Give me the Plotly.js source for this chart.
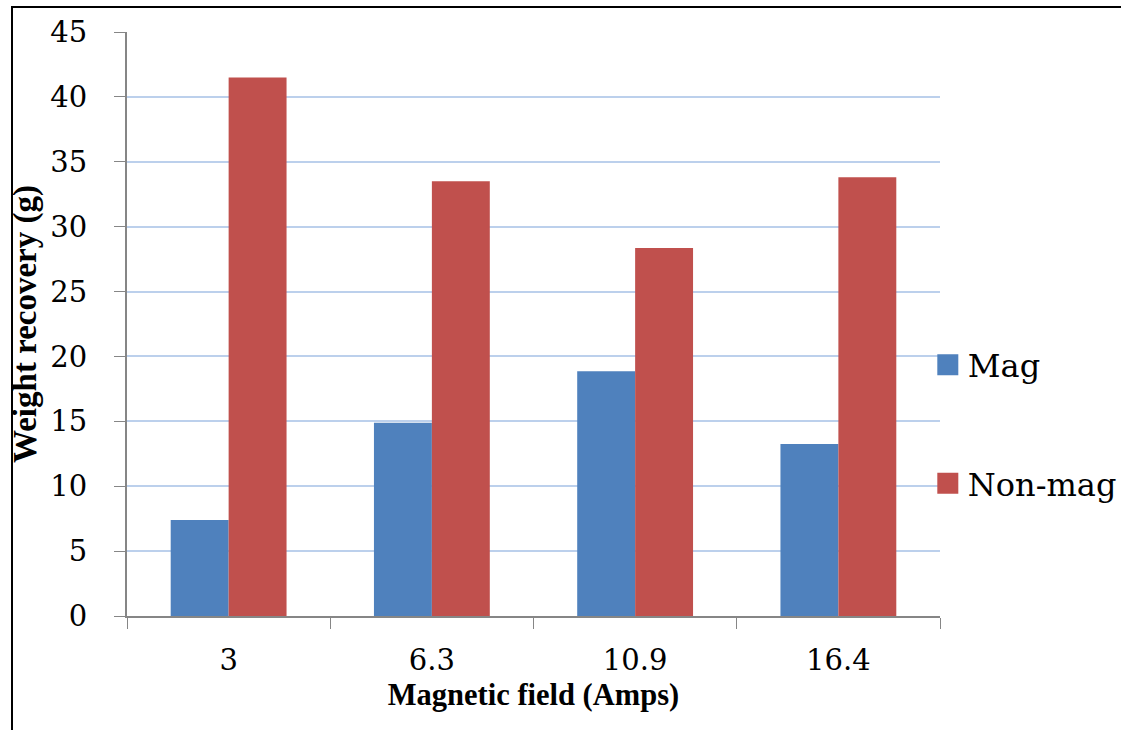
<!DOCTYPE html>
<html>
<head>
<meta charset="utf-8">
<script src="https://cdn.plot.ly/plotly-3.0.1.min.js"></script>
<style>
  html, body { margin: 0; padding: 0; background: #fff; }
  #chart { width: 1121px; height: 730px; position: absolute; left: 0; top: 0; }
  #frame { position: absolute; left: 11px; top: 6px; width: 2000px; height: 2000px;
           border-left: 2px solid #000; border-top: 2px solid #000; pointer-events: none; }
</style>
</head>
<body>
<div id="chart"></div>
<div id="frame"></div>
<script>
const categories = ["3", "6.3", "10.9", "16.4"];
const magValues = [7.4, 14.9, 18.85, 13.25];
const nonMagValues = [41.5, 33.5, 28.35, 33.8];
const seriesNames = ["Mag", "Non-mag"];
const yTickValues = [0, 5, 10, 15, 20, 25, 30, 35, 40, 45];
const xTitle = "Magnetic field (Amps)";
const yTitle = "Weight recovery (g)";

const serifBold = "Liberation Serif";
const serifRegular = "DejaVu Serif";

const traces = [
  { type: "bar", name: seriesNames[0], x: categories, y: magValues,
    marker: { color: "#4f81bd", line: { width: 0 } }, legendgroup: "a" },
  { type: "bar", name: seriesNames[1], x: categories, y: nonMagValues,
    marker: { color: "#c0504d", line: { width: 0 } }, legendgroup: "b" }
];

const layout = {
  width: 1121, height: 730,
  margin: { l: 127, r: 181, t: 32, b: 114, autoexpand: false },
  paper_bgcolor: "#fff", plot_bgcolor: "#fff",
  barmode: "group", bargap: 0.43, bargroupgap: 0,
  font: { family: serifRegular, color: "#000" },
  xaxis: {
    type: "category",
    tickson: "boundaries",
    ticks: "outside", ticklen: 11, tickcolor: "#868686", tickwidth: 1,
    showline: true, linecolor: "#868686", linewidth: 2,
    showgrid: false,
    automargin: false,
    tickfont: { family: serifRegular, size: 29, color: "#000" },
    ticklabelstandoff: 17,
    title: { text: "<b>" + xTitle + "</b>", font: { family: serifBold, size: 30.5, color: "#000" }, standoff: 8 }
  },
  yaxis: {
    range: [0, 45],
    tickvals: yTickValues,
    ticktext: yTickValues.map(String),
    ticks: "outside", ticklen: 11, tickcolor: "#868686", tickwidth: 1,
    showline: true, linecolor: "#868686", linewidth: 2,
    showgrid: true, gridcolor: "#bcd0ec", gridwidth: 2,
    zeroline: false,
    automargin: false,
    tickfont: { family: serifRegular, size: 29, color: "#000" },
    ticklabelstandoff: 21
  },
  annotations: [
    { text: "<b>" + yTitle + "</b>", xref: "paper", yref: "paper",
      x: -0.1255, y: 0.5, xanchor: "center", yanchor: "middle",
      textangle: -90, showarrow: false,
      font: { family: serifBold, size: 33, color: "#000" } }
  ],
  showlegend: true,
  legend: {
    x: 0.985, xanchor: "left", y: 0.328, yanchor: "middle",
    font: { family: serifRegular, size: 32, color: "#000" },
    traceorder: "grouped", tracegroupgap: 74,
    bgcolor: "rgba(0,0,0,0)", borderwidth: 0
  }
};

Plotly.newPlot("chart", traces, layout, { displayModeBar: false, staticPlot: true }).then(function () {
  document.querySelectorAll("#chart .legend .legendpoints path").forEach(function (p) {
    p.setAttribute("d", "M10.5,10.5H-10.5V-10.5H10.5Z");
  });
});
</script>
</body>
</html>
